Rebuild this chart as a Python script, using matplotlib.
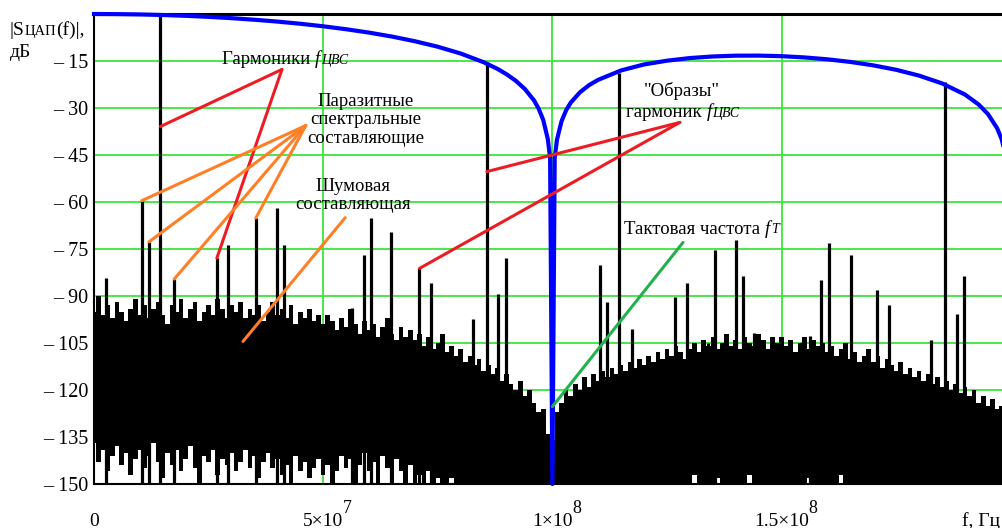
import matplotlib
matplotlib.use('Agg')
import matplotlib.pyplot as plt
import numpy as np

plt.rcParams['font.family'] = ['Liberation Serif', 'DejaVu Serif']

# --- data (MHz / dB) ---
# огибающая sin(x)/x, синяя
env_mhz = [0, 5, 10, 15, 20, 25, 30, 35, 40, 45, 50, 55, 60, 65, 70, 75, 80, 85, 88,
           90, 92, 94, 96, 97, 98, 99, 99.5, 100, 100.5, 101, 102, 103, 104, 106, 108,
           110, 115, 120, 125, 130, 135, 140, 145, 150, 155, 160, 165, 170, 175, 180,
           185, 190, 193, 195, 197, 198, 199]
env_db = [0, -0.04, -0.14, -0.32, -0.58, -0.91, -1.33, -1.83, -2.42, -3.11, -3.92, -4.86,
          -5.94, -7.2, -8.69, -10.45, -12.62, -15.39, -17.5, -19.23, -21.3, -23.95, -27.6,
          -30.2, -33.8, -39.9, -46.0, -150, -46.0, -40.1, -34.2, -30.7, -28.3, -25.0, -22.7,
          -21.0, -18.0, -16.1, -14.9, -14.06, -13.55, -13.3, -13.28, -13.46, -13.86, -14.46,
          -15.3, -16.39, -17.81, -19.67, -22.15, -25.7, -28.9, -31.9, -36.4, -39.9, -46.0]

# шумовая полоса, шаг 1 МГц (0..198)
noise_hi = [
    -95, -90, -96, -93, -97, -92, -95, -98, -94, -91,
    -96, -93, -97, -94, -92, -96, -99, -93, -95, -91,
    -97, -94, -92, -98, -95, -93, -96, -91, -94, -97,
    -93, -95, -92, -97, -94, -96, -93, -98, -95, -92,
    -96, -94, -97, -93, -99, -95, -97, -94, -98, -96,
    -99, -96, -98, -101, -97, -100, -94, -99, -102, -98,
    -101, -99, -103, -100, -97, -102, -104, -100, -103, -101,
    -104, -102, -106, -103, -107, -105, -102, -108, -106, -109,
    -107, -111, -109, -112, -110, -114, -112, -115, -113, -117,
    -115, -118, -120, -117, -122, -120, -124, -127, -126, -134,
    -136, -127, -124, -120, -122, -118, -120, -116, -119, -115,
    -117, -114, -116, -113, -115, -112, -114, -111, -113, -110,
    -112, -109, -111, -108, -110, -107, -109, -106, -108, -110,
    -107, -105, -108, -104, -106, -103, -107, -105, -102, -106,
    -104, -107, -103, -105, -106, -102, -104, -107, -103, -105,
    -103, -106, -104, -108, -105, -103, -107, -104, -106, -105,
    -108, -106, -109, -107, -105, -110, -108, -111, -109, -107,
    -111, -109, -113, -110, -112, -114, -111, -115, -113, -116,
    -114, -117, -115, -118, -116, -119, -117, -120, -118, -121,
    -119, -122, -120, -124, -122, -125, -123, -126, -125]
noise_lo = [
    -137, -143, -139, -146, -141, -138, -144, -140, -147, -142,
    -139, -145, -141, -137, -143, -148, -140, -144, -139, -146,
    -142, -138, -145, -150, -141, -143, -139, -147, -142, -144,
    -140, -146, -143, -139, -145, -141, -148, -143, -140, -145,
    -142, -147, -144, -150, -141, -146, -143, -148, -145, -142,
    -147, -144, -150, -146, -141, -145, -142, -150, -144, -140,
    -146, -143, -150, -141, -145, -150, -142, -146, -150, -144,
    -150, -147, -150, -146, -150, -148, -150, -150, -148, -150] + [-150] * 50 + [
    -150, -147, -150, -150, -150, -150, -148, -150, -150, -150,
    -150, -150, -150, -147, -150, -150, -150, -150, -150, -150,
    -150, -150, -150, -150, -150, -150, -148, -150, -150, -150,
    -150, -150, -150, -147, -150, -150, -150, -150, -150, -150] + [-150] * 29

# дискретные составляющие (частота МГц, уровень дБ)
spike_mhz = [2.6, 10.4, 12.0, 14.5, 17.5, 26.8, 29.3, 35.3, 39.9, 41.4, 56.2, 58.8,
             60.4, 64.7, 71.0, 73.5, 82.7, 85.7, 88.2, 89.8, 110.4, 112.0, 114.6, 117.4,
             126.7, 129.3, 134.0, 135.5, 140.0, 141.5, 144.0, 156.2, 158.7, 160.3, 165.1,
             170.9, 173.4, 182.7, 185.6, 188.2, 189.8]
spike_db = [-84.3, -59.6, -72.7, -0.3, -84.6, -77.9, -73.6, -65.1, -61.9, -73.6, -93.8,
            -76.9, -65.1, -69.7, -81.2, -86.0, -97.3, -15.3, -89.4, -78.0, -80.0, -91.8,
            -18.8, -100.5, -90.4, -86.0, -105.0, -75.3, -72.0, -83.7, -101.9, -102.7,
            -84.8, -73.1, -76.9, -88.0, -92.9, -104.0, -21.7, -95.7, -83.7]

y_ticks = [-15, -30, -45, -60, -75, -90, -105, -120, -135, -150]
x_ticks = [0, 5e7, 1e8, 1.5e8]
x_tick_labels = ['0', '5×10', '1×10', '1.5×10']
x_tick_pow = [None, '7', '8', '8']

MHZ = 1e6
W, H = 1003, 528

fig = plt.figure(figsize=(W / 100, H / 100), dpi=100)
ax = fig.add_axes([94 / W, 44 / H, 909 / W, 470 / H])

nf = np.arange(len(noise_hi)) * MHZ
ax.fill_between(nf, noise_lo, noise_hi, step='mid', color='black', lw=0, zorder=2)
ax.vlines(np.array(spike_mhz) * MHZ, -150, spike_db, color='black', lw=2.3, zorder=2)
ax.plot(np.array(env_mhz) * MHZ, env_db, color='#0000ff', lw=3, zorder=4, clip_on=False)

ax.set_xlim(0, 198.3 * MHZ)
ax.set_ylim(-150, 0)

green = '#3ce63c'
ax.set_yticks(y_ticks, labels=['\u2013 %d' % (-v) for v in y_ticks])
ax.set_xticks(x_ticks, labels=x_tick_labels)
ax.grid(True, color=green, lw=1.3, zorder=0)
ax.set_axisbelow(True)
ax.tick_params(axis='y', length=0, labelsize=14.5, pad=4)
ax.tick_params(axis='x', length=0, labelsize=14, pad=30)
for lab in ax.get_xticklabels():
    lab.set_va('baseline')
for lab, p in zip(ax.get_xticklabels(), x_tick_pow):
    if p:
        ax.annotate(p, xy=(1, 0), xycoords=lab, xytext=(-0.3, 9),
                    textcoords='offset points', va='bottom', ha='left', fontsize=13)

for s in ['left', 'bottom']:
    ax.spines[s].set_linewidth(1.5)
ax.spines['top'].set_linewidth(2.2)
ax.spines['right'].set_visible(False)

# подпись оси Y
t1 = fig.text(10 / W, 1 - 35 / H, '|S', fontsize=14, va='baseline')
t2 = ax.annotate('ЦАП', xy=(1, 0), xycoords=t1, va='bottom', fontsize=10.5,
                 xytext=(0, 1), textcoords='offset points')
ax.annotate('(f)|,', xy=(1, 0), xycoords=t2, va='bottom', fontsize=14,
            xytext=(0, -1), textcoords='offset points')
fig.text(10 / W, 1 - 57 / H, 'дБ', fontsize=14, va='baseline')
fig.text(1000 / W, 1 - 526 / H, 'f, Гц', fontsize=14, va='baseline', ha='right')

# пояснения
red = '#ed1c24'
orange = '#ff7f27'
lgreen = '#22b14c'
fs = 13.5


def seg(p0, p1, c):
    ax.plot([p0[0] * MHZ, p1[0] * MHZ], [p0[1], p1[1]], color=c, lw=2.2,
            solid_capstyle='round', zorder=5)


def f_sub(x, y, head, sub):
    a = ax.text(x * MHZ, y, head, fontsize=fs, va='baseline', zorder=6)
    b = ax.annotate('f', xy=(1, 0), xycoords=a, va='bottom', fontsize=fs,
                    style='italic', zorder=6)
    ax.annotate(sub, xy=(1, 0), xycoords=b, va='bottom', fontsize=10,
                style='italic', zorder=6, xytext=(0.5, 1), textcoords='offset points')


f_sub(27.9, -16.1, 'Гармоники ', 'ЦВС')
seg((41.0, -17.7), (14.5, -35.9), red)
seg((41.0, -17.7), (26.8, -77.9), red)

ax.text(59.3 * MHZ, -33.7, 'Паразитные\nспектральные\nсоставляющие', fontsize=fs,
        ha='center', va='center', linespacing=1.12, zorder=6)
for sf, sd in [(10.4, -59.6), (12.0, -72.7), (17.5, -84.6), (35.3, -65.1)]:
    seg((46.2, -35.6), (sf, sd), orange)

ax.text(56.5 * MHZ, -57.9, 'Шумовая\nсоставляющая', fontsize=fs,
        ha='center', va='center', linespacing=1.12, zorder=6)
seg((54.8, -65.0), (32.5, -104.5), orange)

ax.text(128.3 * MHZ, -26.3, '"Образы"', fontsize=fs, ha='center', va='baseline', zorder=6)
f_sub(116.1, -33.0, 'гармоник ', 'ЦВС')
seg((127.8, -34.6), (85.7, -50.3), red)
seg((127.8, -34.6), (71.0, -81.2), red)

f_sub(115.6, -70.1, 'Тактовая частота ', 'T')
seg((128.5, -72.9), (100.0, -125.3), lgreen)

fig.savefig('out.png', dpi=100)
